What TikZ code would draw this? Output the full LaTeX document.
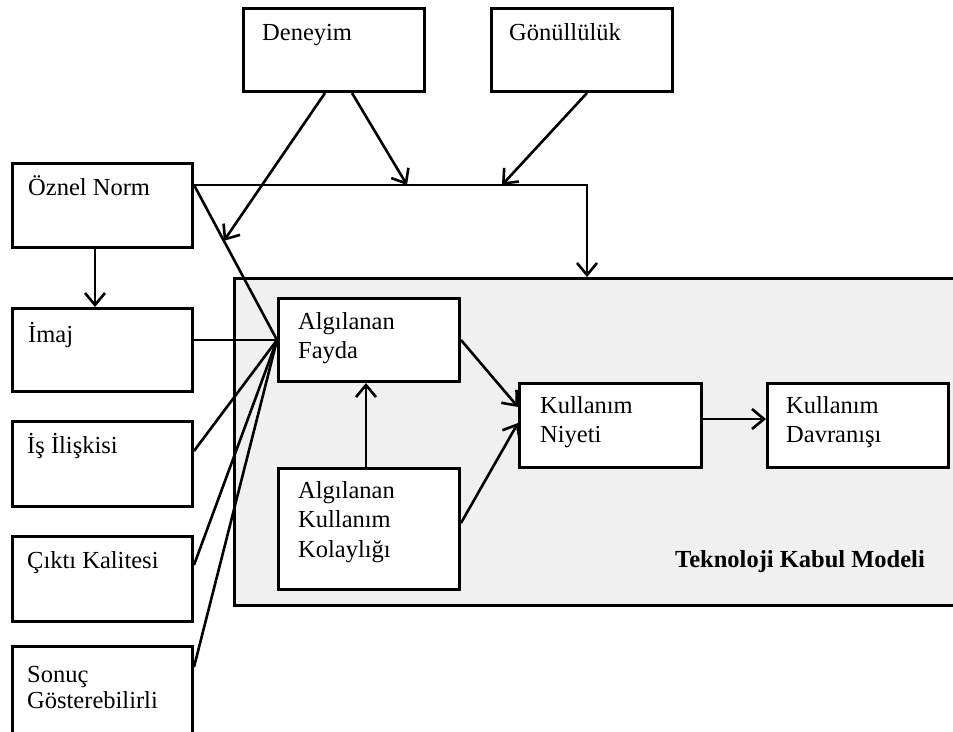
\documentclass[tikz,border=0pt]{standalone}
\usepackage{fontspec}
\setmainfont{Liberation Serif}
\usetikzlibrary{arrows.meta,calc}
\definecolor{panelgray}{RGB}{240,240,240}
% multi-line label whose baseline is that of its first line
\newcommand{\mlines}[1]{\begin{tabular}[t]{@{}l@{}}#1\end{tabular}}

\begin{document}
\begin{tikzpicture}[x=1pt,y=-1pt,
  box/.style={draw=black, line width=3pt, fill=white, inner sep=0pt, anchor=north west},
  panel/.style={draw=black, line width=2.5pt, fill=panelgray, inner sep=0pt, anchor=north west},
  txt/.style={anchor=base west, inner sep=0pt, font=\fontsize{24.5}{29.5}\selectfont},
  conn/.style={line width=2.6pt},
  arr/.style={conn, -{Straight Barb[length=12pt,width=20pt]}},
]
\useasboundingbox (0,0) rectangle (953,731);
\fill[white] (0,0) rectangle (953,731);
\clip (0,0) rectangle (953,731);

% Technology Acceptance Model panel
\node[panel, minimum width=724pt, minimum height=327pt] (tkm) at (233,277) {};
\node[txt, font=\fontsize{24.5}{29.5}\selectfont\bfseries] (tkmlbl) at (675,567) {Teknoloji Kabul Modeli};

% boxes
\node[box, minimum width=181pt, minimum height=83pt] (dn) at (242,7) {};
\node[box, minimum width=181pt, minimum height=83pt] (gn) at (490,7) {};
\node[box, minimum width=180pt, minimum height=84pt] (on) at (11,162) {};
\node[box, minimum width=180pt, minimum height=83pt] (im) at (11,307) {};
\node[box, minimum width=180pt, minimum height=85pt] (ii) at (11,420) {};
\node[box, minimum width=180pt, minimum height=85pt] (ck) at (11,535) {};
\node[box, minimum width=180pt, minimum height=100pt] (sg) at (11,645) {};
\node[box, minimum width=181pt, minimum height=83pt] (af) at (277,297) {};
\node[box, minimum width=181pt, minimum height=121pt] (akk) at (277,467) {};
\node[box, minimum width=182pt, minimum height=84pt] (kn) at (518,382) {};
\node[box, minimum width=181pt, minimum height=84pt] (kd) at (766,382) {};

% box labels
\node[txt] (dnl) at (262,40) {Deneyim};
\node[txt] (gnl) at (509,40) {Gönüllülük};
\node[txt] (onl) at (28,195) {Öznel Norm};
\node[txt] (iml) at (28,342) {İmaj};
\node[txt] (iil) at (27,453) {İş İlişkisi};
\node[txt] (ckl) at (27,568) {Çıktı Kalitesi};
\node[txt, font=\fontsize{24.5}{26}\selectfont] (sgl) at (27,682) {\mlines{Sonuç\\Gösterebilirli}};
\node[txt] (afl) at (298,329) {\mlines{Algılanan\\Fayda}};
\node[txt] (akkl) at (298,498) {\mlines{Algılanan\\Kullanım\\Kolaylığı}};
\node[txt] (knl) at (540,413) {\mlines{Kullanım\\Niyeti}};
\node[txt] (kdl) at (786,413) {\mlines{Kullanım\\Davranışı}};

% junction points
\coordinate (onr) at ($(on.north east)+(0,23)$);
\coordinate (dtip) at ($(onr)!0.36!(af.west)$);
\coordinate (bend) at (587,185);
\coordinate (m1) at (407,185);
\coordinate (m2) at (502,185);

% moderators
\draw[arr] ($(dn.south west)+(83,0)$) -- (dtip);
\draw[arr] ($(dn.south west)+(110,0)$) -- (m1);
\draw[arr] ($(gn.south west)+(97,0)$) -- (m2);
\draw[arr] (onr) -- (bend) -- (bend |- tkm.north);

% external variables into perceived usefulness
\draw[arr] ($(on.south west)+(84,0)$) -- ($(im.north west)+(84,0)$);
\draw[conn] (onr) -- (af.west);
\draw[conn] (im.east |- af.west) -- (af.west);
\draw[conn] ($(ii.north east)+(0,31)$) -- (af.west);
\draw[conn] ($(ck.north east)+(0,30)$) -- (af.west);
\draw[conn] ($(sg.north east)+(0,22)$) -- (af.west);

% core model
\draw[arr] ($(akk.north west)+(89,0)$) -- ($(af.south west)+(89,0)$);
\draw[arr] (af.east) -- ($(kn.north west)+(0,25)$);
\draw[arr] ($(akk.north east)+(0,56)$) -- ($(kn.north west)+(0,41)$);
\draw[arr] ($(kn.north east)+(0,37)$) -- ($(kd.north west)+(0,37)$);
\end{tikzpicture}
\end{document}
